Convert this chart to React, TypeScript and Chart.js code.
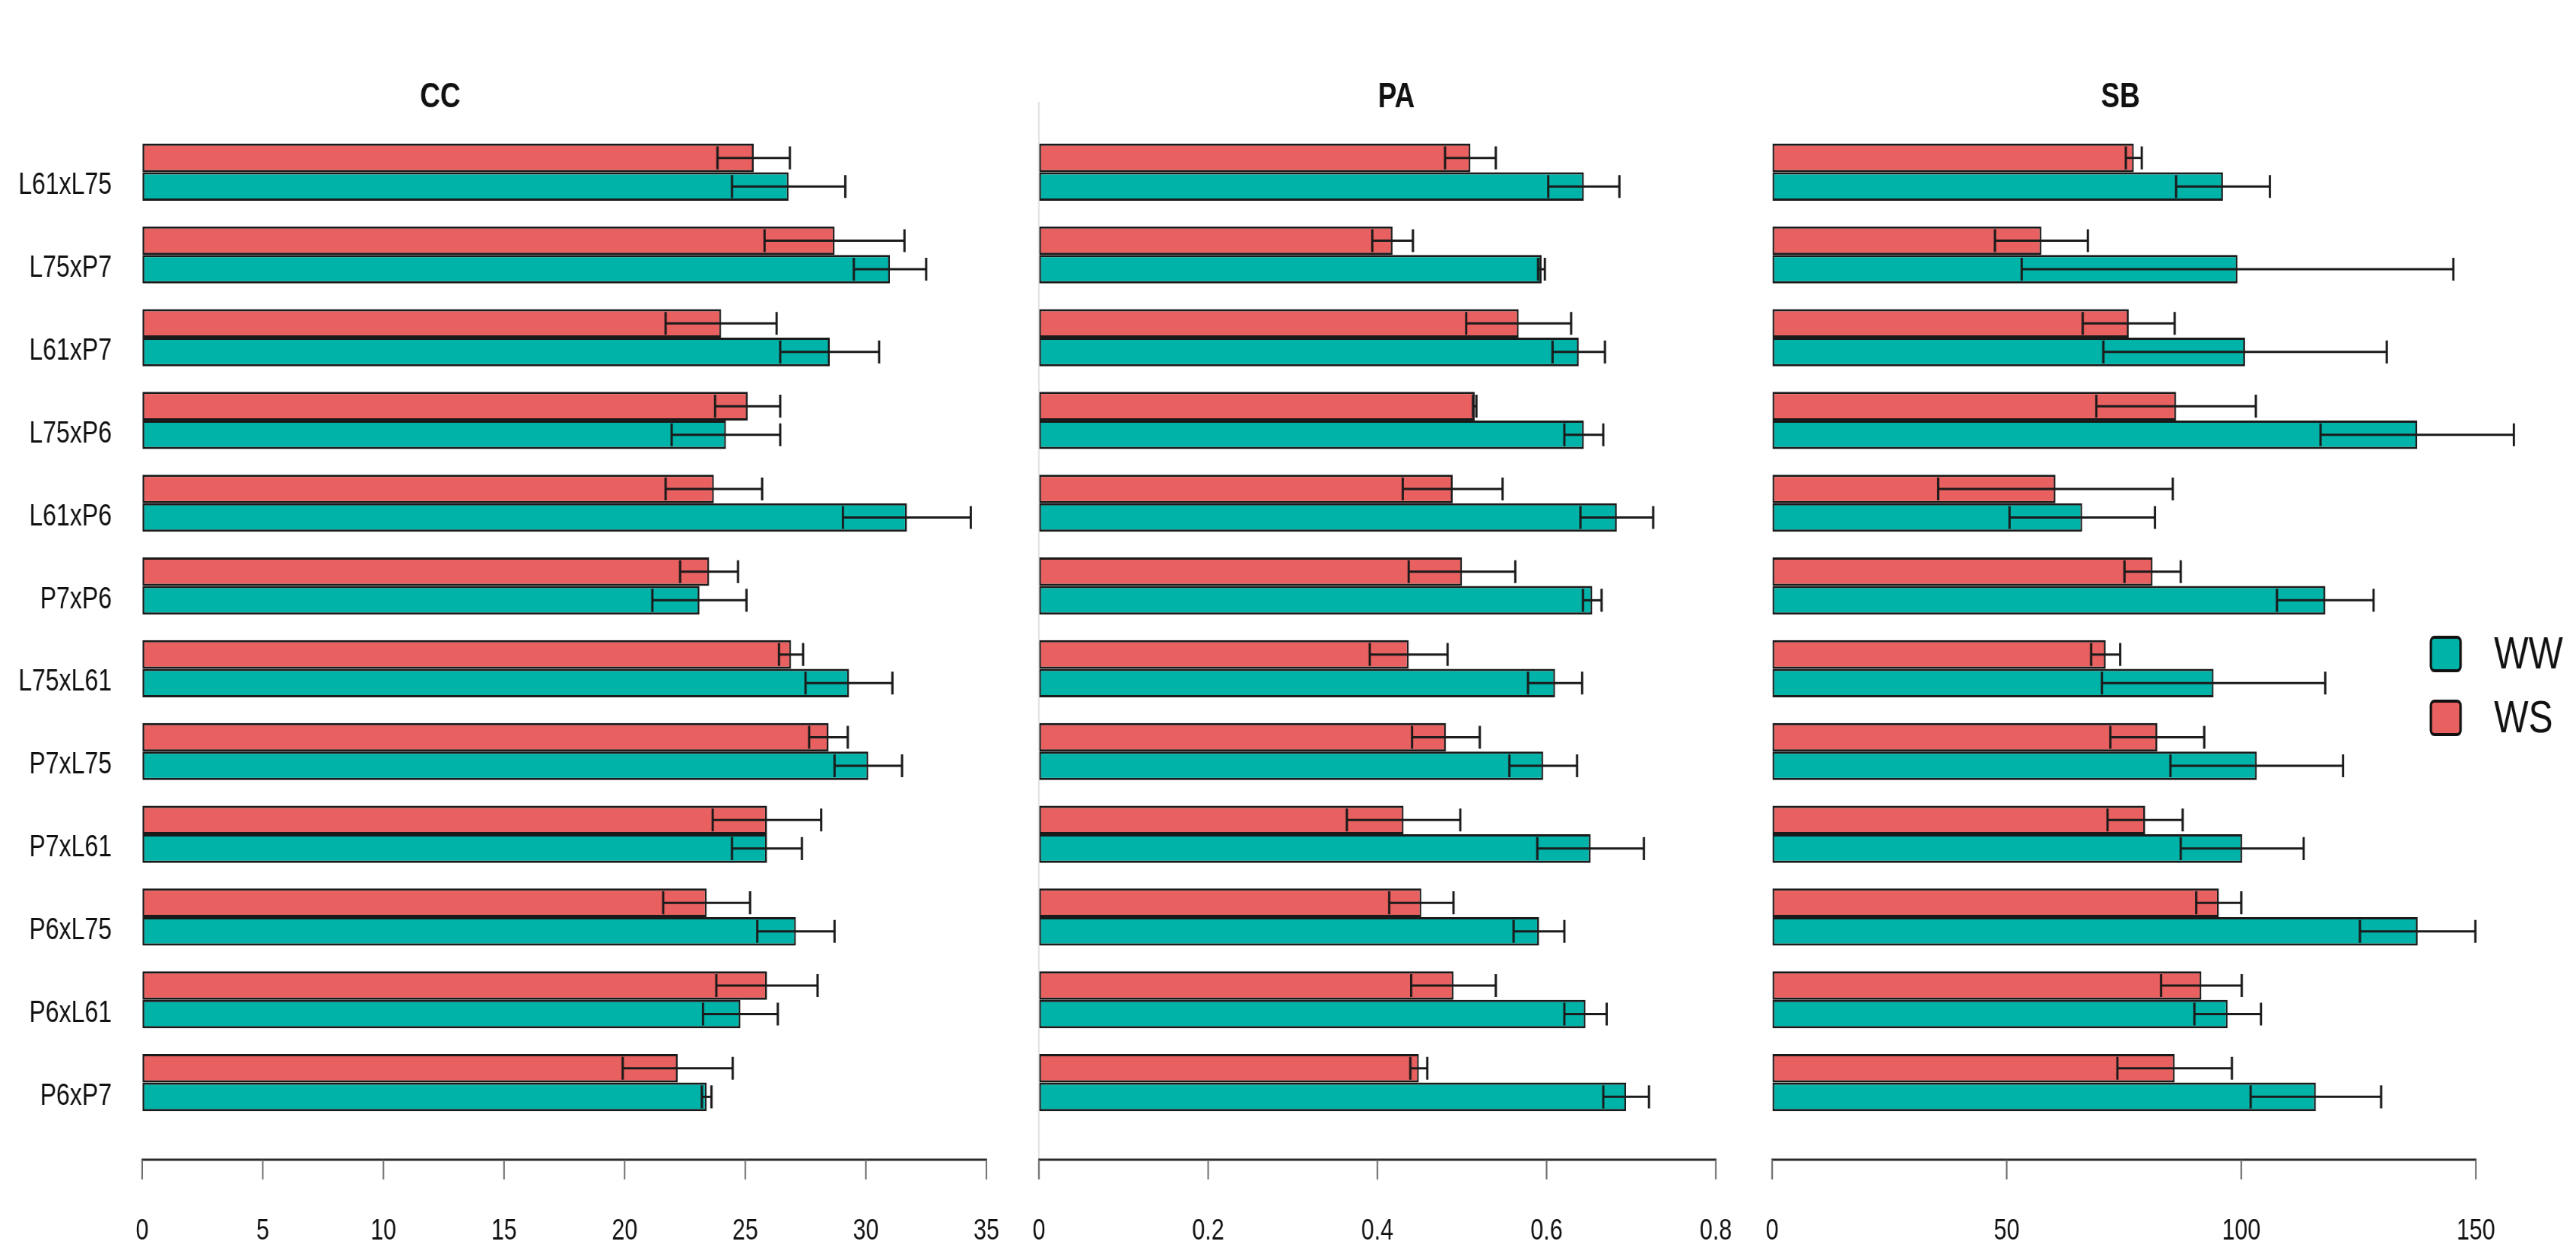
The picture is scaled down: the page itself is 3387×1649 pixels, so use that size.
import React, { useEffect, useRef } from "react";
import { Chart, registerables } from "chart.js";

Chart.register(...registerables);

// ---------------- data ----------------
const categories = [
  "L61xL75", "L75xP7", "L61xP7", "L75xP6", "L61xP6", "P7xP6",
  "L75xL61", "P7xL75", "P7xL61", "P6xL75", "P6xL61", "P6xP7",
];

const ccWW = [26.8, 31.0, 28.5, 24.2, 31.7, 23.1, 29.3, 30.1, 25.9, 27.1, 24.8, 23.4];
const ccWWErr = [2.35, 1.5, 2.05, 2.25, 2.65, 1.95, 1.8, 1.4, 1.45, 1.6, 1.55, 0.2];
const ccWS = [25.35, 28.7, 24.0, 25.1, 23.7, 23.5, 26.9, 28.45, 25.9, 23.4, 25.9, 22.2];
const ccWSErr = [1.5, 2.9, 2.3, 1.35, 2.0, 1.2, 0.5, 0.8, 2.25, 1.8, 2.1, 2.28];

const paWW = [0.644, 0.594, 0.638, 0.644, 0.683, 0.654, 0.61, 0.596, 0.652, 0.591, 0.646, 0.694];
const paWWErr = [0.042, 0.004, 0.031, 0.023, 0.043, 0.011, 0.032, 0.04, 0.063, 0.03, 0.025, 0.027];
const paWS = [0.51, 0.418, 0.567, 0.515, 0.489, 0.5, 0.437, 0.481, 0.431, 0.452, 0.49, 0.449];
const paWSErr = [0.03, 0.024, 0.062, 0.002, 0.059, 0.063, 0.046, 0.04, 0.067, 0.038, 0.05, 0.01];

const sbWW = [96.1, 99.2, 100.8, 137.5, 66.1, 117.9, 94.1, 103.3, 100.2, 137.6, 97.1, 115.9];
const sbWWErr = [10, 46, 30.2, 20.6, 15.5, 10.3, 23.8, 18.4, 13.1, 12.3, 7.1, 13.9];
const sbWS = [77.1, 57.4, 76.0, 86.1, 60.4, 81.1, 71.1, 82.1, 79.5, 95.2, 91.5, 85.8];
const sbWSErr = [1.7, 9.9, 9.8, 17, 25, 6, 3.1, 10, 8, 4.8, 8.6, 12.2];

const seriesNames = ["WW", "WS"];
const panelTitles = ["CC", "PA", "SB"];

// ---------------- style / layout ----------------
const FONT = '"Liberation Sans", Arial, sans-serif';
const RED = "#E8605F";
const TEAL = "#00B3A9";
const EDGE = "#1a1a1a";
const W = 3387;
const H = 1649;
const SX = 0.8; // horizontal compression of the drawing (narrow look)
const PLOT_TOP = 172;
const PLOT_BOTTOM = 1478;
const AXIS_Y = 1525;
const LABEL_DROP = 119;

type PanelCfg = {
  title: string;
  ww: number[];
  wwErr: number[];
  ws: number[];
  wsErr: number[];
  max: number;
  step: number;
  tickMax: number;
  left: number;
  width: number;
  padLeft: number;
  padRight: number;
  titleX: number;
  showY: boolean;
  zeroLine: boolean;
  legend: boolean;
};

const decoPlugin = {
  id: "deco",
  beforeDatasetsDraw(chart: any, _args: any, opts: any) {
    const ctx = chart.ctx;
    const xs = chart.scales.x;
    if (opts.zeroLine) {
      const x0 = xs.getPixelForValue(0);
      ctx.save();
      ctx.strokeStyle = "#e2e2e2";
      ctx.lineWidth = 2 / SX;
      ctx.beginPath();
      ctx.moveTo(x0, 134);
      ctx.lineTo(x0, AXIS_Y);
      ctx.stroke();
      ctx.restore();
    }
  },
  afterDatasetsDraw(chart: any) {
    const ctx = chart.ctx;
    const xs = chart.scales.x;
    chart.data.datasets.forEach((ds: any, i: number) => {
      const meta = chart.getDatasetMeta(i);
      meta.data.forEach((el: any, j: number) => {
        const v = ds.data[j];
        const e = ds.errors[j];
        const lo = xs.getPixelForValue(v - e);
        const hi = xs.getPixelForValue(v + e);
        const { y, height } = el.getProps(["y", "height"], true);
        const h = Math.abs(height) * 0.4;
        ctx.save();
        ctx.strokeStyle = "#1b1b1b";
        ctx.lineWidth = 3;
        ctx.beginPath();
        ctx.moveTo(lo, y);
        ctx.lineTo(hi, y);
        ctx.stroke();
        ctx.lineWidth = 3 / SX;
        ctx.beginPath();
        ctx.moveTo(lo, y - h);
        ctx.lineTo(lo, y + h);
        ctx.moveTo(hi, y - h);
        ctx.lineTo(hi, y + h);
        ctx.stroke();
        ctx.restore();
      });
    });
  },
  afterDraw(chart: any, _args: any, opts: any) {
    const ctx = chart.ctx;
    const xs = chart.scales.x;
    const xa = xs.getPixelForValue(0);
    const xb = xs.getPixelForValue(opts.tickMax);
    ctx.save();
    ctx.strokeStyle = "#2a2a2a";
    ctx.lineWidth = 3;
    ctx.beginPath();
    ctx.moveTo(xa - 1, AXIS_Y);
    ctx.lineTo(xb + 1, AXIS_Y);
    ctx.stroke();
    ctx.strokeStyle = "#6a6a6a";
    ctx.lineWidth = 2 / SX;
    xs.ticks.forEach((t: any) => {
      const x = xs.getPixelForValue(t.value);
      ctx.beginPath();
      ctx.moveTo(x, AXIS_Y);
      ctx.lineTo(x, AXIS_Y + 26);
      ctx.stroke();
    });
    // panel title
    ctx.fillStyle = "#111";
    ctx.font = `bold 46px ${FONT}`;
    ctx.textAlign = "center";
    ctx.textBaseline = "alphabetic";
    ctx.fillText(opts.title, opts.titleX, 141);
    // legend
    if (opts.legend) {
      const ds = chart.data.datasets;
      const order = [1, 0]; // WW first, then WS
      order.forEach((di: number, k: number) => {
        const bx = opts.legendX;
        const by = 838 + k * 84;
        ctx.fillStyle = ds[di].backgroundColor;
        ctx.strokeStyle = "#111";
        ctx.lineWidth = 4;
        ctx.beginPath();
        (ctx as any).roundRect(bx, by, 39 / SX, 44, 6);
        ctx.fill();
        ctx.stroke();
        ctx.fillStyle = "#111";
        ctx.font = `60px ${FONT}`;
        ctx.textAlign = "left";
        ctx.textBaseline = "middle";
        ctx.fillText(ds[di].label, bx + 83 / SX, by + 24);
      });
    }
    ctx.restore();
  },
};

function Panel({ cfg }: { cfg: PanelCfg }) {
  const ref = useRef<HTMLCanvasElement>(null);
  const innerW = Math.round(cfg.width / SX);
  useEffect(() => {
    const chart = new Chart(ref.current as HTMLCanvasElement, {
      type: "bar",
      data: {
        labels: categories,
        datasets: [
          {
            label: seriesNames[1],
            data: cfg.ws,
            errors: cfg.wsErr,
            backgroundColor: RED,
            borderColor: EDGE,
            borderWidth: 3,
            borderSkipped: false,
          } as any,
          {
            label: seriesNames[0],
            data: cfg.ww,
            errors: cfg.wwErr,
            backgroundColor: TEAL,
            borderColor: EDGE,
            borderWidth: 3,
            borderSkipped: false,
          } as any,
        ],
      },
      options: {
        indexAxis: "y",
        responsive: false,
        animation: false,
        devicePixelRatio: 1,
        categoryPercentage: 0.69,
        barPercentage: 1,
        layout: {
          padding: { top: PLOT_TOP, bottom: 0, left: cfg.padLeft / SX, right: cfg.padRight / SX },
        },
        plugins: {
          legend: { display: false },
          tooltip: { enabled: false },
          title: { display: false },
          deco: {
            title: cfg.title,
            titleX: (cfg.titleX - cfg.left) / SX,
            tickMax: cfg.tickMax,
            zeroLine: cfg.zeroLine,
            legend: cfg.legend,
            legendX: (3196 - cfg.left) / SX,
          },
        } as any,
        scales: {
          x: {
            type: "linear",
            min: 0,
            max: cfg.max,
            grid: {
              display: true,
              drawOnChartArea: false,
              drawTicks: true,
              tickLength: LABEL_DROP,
              color: "rgba(0,0,0,0)",
            },
            border: { display: false },
            ticks: {
              padding: 0,
              color: "#111",
              font: { family: FONT, size: 38 },
              maxRotation: 0,
              autoSkip: false,
            },
            afterBuildTicks: (s: any) => {
              const t: any[] = [];
              for (let v = 0; v <= cfg.tickMax + 1e-9; v += cfg.step) {
                t.push({ value: Math.round(v * 1000) / 1000 });
              }
              s.ticks = t;
            },
            afterFit: (s: any) => {
              s.height = H - PLOT_BOTTOM;
            },
          },
          y: {
            display: cfg.showY,
            grid: { display: false, drawTicks: false },
            border: { display: false },
            ticks: {
              color: "#111",
              padding: 40 / SX,
              labelOffset: 18,
              font: { family: FONT, size: 40 },
            },
            afterFit: (s: any) => {
              s.width = cfg.showY ? 187 / SX : 0;
            },
          },
        },
      } as any,
      plugins: [decoPlugin as any],
    });
    return () => chart.destroy();
  }, []);
  return (
    <canvas
      ref={ref}
      width={innerW}
      height={H}
      style={{ position: "absolute", left: cfg.left, top: 0, width: cfg.width, height: H }}
    />
  );
}

const panels: PanelCfg[] = [
  {
    title: panelTitles[0], ww: ccWW, wwErr: ccWWErr, ws: ccWS, wsErr: ccWSErr,
    max: 35, step: 5, tickMax: 35, left: 0, width: 1330, padLeft: 0, padRight: 33,
    titleX: 579, showY: true, zeroLine: false, legend: false,
  },
  {
    title: panelTitles[1], ww: paWW, wwErr: paWWErr, ws: paWS, wsErr: paWSErr,
    max: 0.8, step: 0.2, tickMax: 0.8, left: 1330, width: 960, padLeft: 36, padRight: 34,
    titleX: 1836, showY: false, zeroLine: true, legend: false,
  },
  {
    title: panelTitles[2], ww: sbWW, wwErr: sbWWErr, ws: sbWS, wsErr: sbWSErr,
    max: 160, step: 50, tickMax: 150, left: 2290, width: 1097, padLeft: 40, padRight: 70,
    titleX: 2788, showY: false, zeroLine: false, legend: true,
  },
];

export default function App() {
  return (
    <div
      style={{
        position: "fixed",
        left: 0,
        top: 0,
        width: W,
        height: H,
        background: "#ffffff",
        overflow: "hidden",
      }}
    >
      {panels.map((p) => (
        <Panel key={p.title} cfg={p} />
      ))}
    </div>
  );
}
